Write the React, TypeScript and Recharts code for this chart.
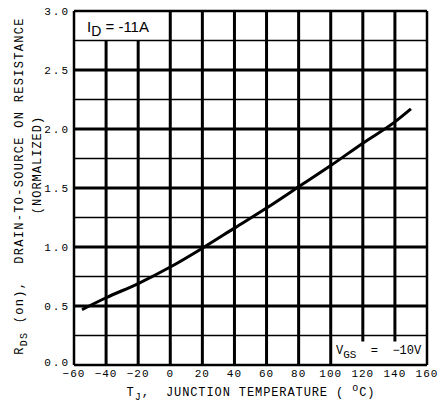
import { LineChart, Line, XAxis, YAxis, ReferenceLine } from 'recharts';

// R_DS(on) normalized vs junction temperature
const tempC = [-55, -40, -20, 0, 20, 40, 60, 80, 100, 120, 140, 150];
const rdsNorm = [0.47, 0.57, 0.69, 0.83, 0.99, 1.16, 1.33, 1.51, 1.69, 1.88, 2.06, 2.17];

const xTicks = [-60, -40, -20, 0, 20, 40, 60, 80, 100, 120, 140, 160];
const yTicks = [0, 0.5, 1.0, 1.5, 2.0, 2.5, 3.0];
const yMinor = [0.25, 0.75, 1.25, 1.75, 2.25, 2.75];

const data = tempC.map((t, i) => ({ t, r: rdsNorm[i] }));

const W = 443;
const H = 404;
const mono = '"Liberation Mono", monospace';

// vertical grid lines cut short by the two label boxes
const vSeg = (x: number) => {
  if (x === -40 || x === -20) return [0, 2.75];
  if (x === 120 || x === 140) return [0.2, 3];
  return [0, 3];
};

// y tick: the bottom one sits a little higher, like the original
const YTick = (props: any) => {
  const { x, y, payload } = props;
  const lift = payload.value === 0 ? -3 : 0;
  return (
    <text
      x={x}
      y={y + lift}
      dy="0.355em"
      textAnchor="end"
      fontFamily={mono}
      fontSize={11}
      letterSpacing={2}
      fill="#000"
    >
      {payload.value.toFixed(1)}
    </text>
  );
};

export default function App() {
  return (
    <div style={{ position: 'absolute', left: 0, top: 0, width: W, height: H, background: '#fff' }}>
      <LineChart width={W} height={H} data={data} margin={{ top: 11, right: 16, left: 0, bottom: 0 }}>
        <XAxis
          dataKey="t"
          type="number"
          domain={[-60, 160]}
          ticks={xTicks}
          height={39}
          axisLine={false}
          tickLine={false}
          tickSize={0}
          tickMargin={4}
          tick={{ fontFamily: mono, fontSize: 11, fill: '#000', letterSpacing: 1 }}
          tickFormatter={(v) => (v < 0 ? `\u2212${-v}` : `${v}`)}
        />
        <YAxis
          type="number"
          domain={[0, 3]}
          ticks={yTicks}
          width={74}
          axisLine={false}
          tickLine={false}
          tickSize={0}
          tickMargin={4}
          tick={<YTick />}
        />
        {yMinor.map((y) => (
          <ReferenceLine key={'m' + y} y={y} stroke="#000" strokeWidth={1.5} ifOverflow="visible" />
        ))}
        {yTicks.slice(1, -1).map((y) => (
          <ReferenceLine key={'h' + y} y={y} stroke="#000" strokeWidth={3} ifOverflow="visible" />
        ))}
        {xTicks.slice(1, -1).map((x) => {
          const [y0, y1] = vSeg(x);
          return (
            <ReferenceLine
              key={'v' + x}
              segment={[{ x, y: y0 }, { x, y: y1 }]}
              stroke="#000"
              strokeWidth={3}
              ifOverflow="visible"
            />
          );
        })}
        <ReferenceLine x={-60} stroke="#000" strokeWidth={2.5} ifOverflow="visible" />
        <ReferenceLine x={160} stroke="#000" strokeWidth={2.5} ifOverflow="visible" />
        <ReferenceLine y={0} stroke="#000" strokeWidth={2.5} ifOverflow="visible" />
        <ReferenceLine y={3} stroke="#000" strokeWidth={2.5} ifOverflow="visible" />
        <Line
          type="monotone"
          dataKey="r"
          stroke="#000"
          strokeWidth={3}
          dot={false}
          isAnimationActive={false}
        />
      </LineChart>
      <svg width={W} height={H} style={{ position: 'absolute', left: 0, top: 0, pointerEvents: 'none' }}>
        <text x={87} y={32} fontFamily='"Liberation Sans", Arial, sans-serif' fontSize={15} fill="#000">
          I<tspan dy={4} fontSize={14}>D</tspan>
          <tspan dy={-4}> = -11A</tspan>
        </text>
        <text x={336} y={354} fontFamily={mono} fontSize={12} fill="#000" style={{ whiteSpace: 'pre' }}>
          V<tspan dy={4} fontSize={11}>GS</tspan>
          <tspan dy={-4}>{'  =  \u221210V'}</tspan>
        </text>
        <text
          x={251}
          y={396}
          textAnchor="middle"
          fontFamily={mono}
          fontSize={12}
          letterSpacing={0.9}
          fill="#000"
          style={{ whiteSpace: 'pre' }}
        >
          T<tspan dy={4} fontSize={10}>J</tspan>
          <tspan dy={-4}>{',  JUNCTION TEMPERATURE ( '}</tspan>
          <tspan dy={-5} fontSize={10}>o</tspan>
          <tspan dy={5}>C)</tspan>
        </text>
        <g transform="translate(23, 186) rotate(-90)">
          <text
            x={0}
            y={0}
            textAnchor="middle"
            fontFamily={mono}
            fontSize={12}
            letterSpacing={1.3}
            fill="#000"
            style={{ whiteSpace: 'pre' }}
          >
            R<tspan dy={4} fontSize={10}>DS</tspan>
            <tspan dy={-4}>{' (on),  DRAIN-TO-SOURCE ON RESISTANCE'}</tspan>
          </text>
        </g>
        <g transform="translate(41, 165) rotate(-90)">
          <text
            x={0}
            y={0}
            textAnchor="middle"
            fontFamily={mono}
            fontSize={12}
            letterSpacing={1}
            fill="#000"
          >
            (NORMALIZED)
          </text>
        </g>
      </svg>
    </div>
  );
}
